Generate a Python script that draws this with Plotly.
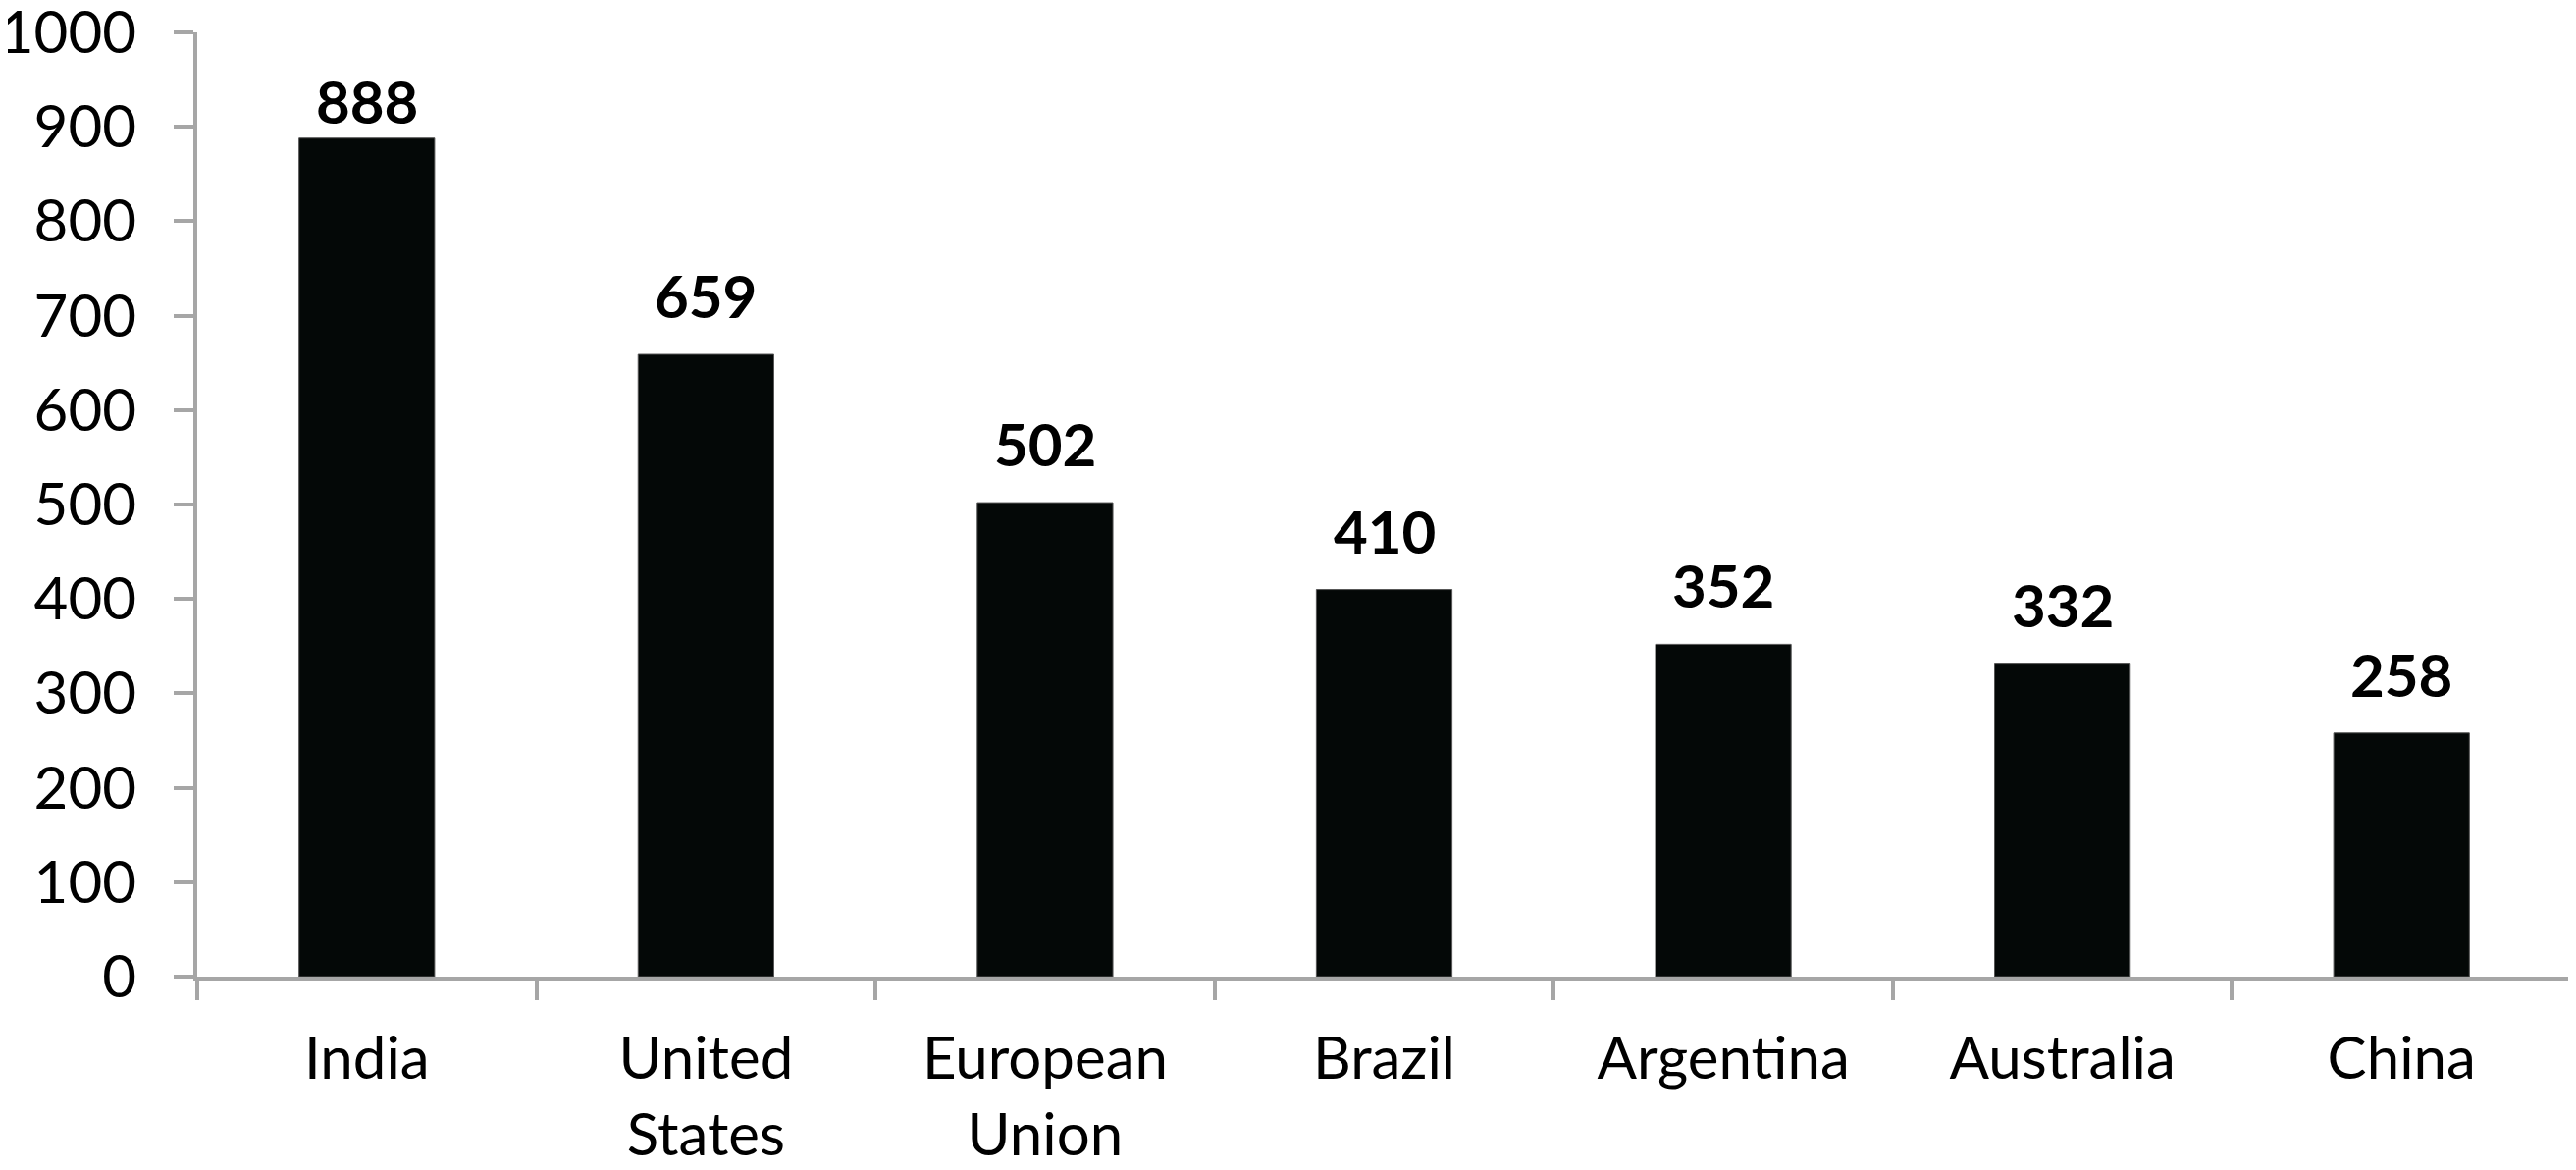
import plotly.graph_objects as go

categories = ["India", "United<br>States", "European<br>Union", "Brazil", "Argentina", "Australia", "China"]
values = [888, 659, 502, 410, 352, 332, 258]
label_shift = [0, 22, 22, 22, 22, 22, 22]
y_ticks = [0, 100, 200, 300, 400, 500, 600, 700, 800, 900, 1000]

FONT = "Lato"
AXIS_COLOR = "#a6a6a6"

fig = go.Figure()
fig.add_trace(go.Bar(
    x=categories,
    y=values,
    marker=dict(color="#040807", line=dict(color="#555555", width=1)),
    width=0.4,
    hoverinfo="skip",
))

for c, v, s in zip(categories, values, label_shift):
    fig.add_annotation(
        x=c, y=v, text=f"<b>{v}</b>", showarrow=False,
        yanchor="bottom", yshift=s,
        font=dict(family=FONT, size=60, color="black"),
    )

# page body has an 8px default margin, so the figure is sized to fit the window
fig.update_layout(
    width=2617, height=1184,
    margin=dict(l=193, r=5, t=25, b=197),
    paper_bgcolor="white", plot_bgcolor="white",
    showlegend=False,
    font=dict(family=FONT, color="black"),
)
fig.update_xaxes(
    type="category",
    range=[-0.5, 6.5],
    automargin=False,
    showline=True, linecolor=AXIS_COLOR, linewidth=4,
    ticks="outside", tickson="boundaries", ticklen=20, tickwidth=4, tickcolor=AXIS_COLOR,
    tickfont=dict(family=FONT, size=60, color="black"),
    ticklabelstandoff=28,
    showgrid=False, zeroline=False,
)
fig.update_yaxes(
    range=[0, 1000],
    tickvals=y_ticks,
    automargin=False,
    showline=True, linecolor=AXIS_COLOR, linewidth=4,
    ticks="outside", ticklen=20, tickwidth=4, tickcolor=AXIS_COLOR,
    tickfont=dict(family=FONT, size=60, color="black"),
    ticklabelstandoff=26,
    ticklabeloverflow="allow",
    showgrid=False, zeroline=False,
)

fig.write_html("out.html")
